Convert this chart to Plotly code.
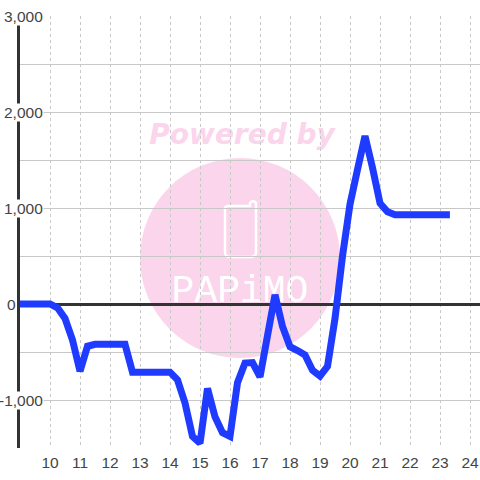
import plotly.graph_objects as go

hours = [8.9, 9.25, 9.5, 9.75, 10, 10.25, 10.5, 10.75, 11, 11.25, 11.5, 11.75, 12, 12.25, 12.5, 12.75,
         13, 13.25, 13.5, 13.75, 14, 14.25, 14.5, 14.75, 15, 15.25, 15.5, 15.75, 16, 16.25, 16.5, 16.75,
         17, 17.25, 17.5, 17.75, 18, 18.25, 18.5, 18.75, 19, 19.25, 19.5, 19.75, 20, 20.25, 20.5, 20.75,
         21, 21.25, 21.5, 21.75, 22, 22.25, 22.5, 22.75, 23, 23.33]
values = [0, 0, 0, 0, 0, -40, -150, -375, -700, -440, -420, -420, -420, -420, -420, -710,
          -710, -710, -710, -710, -710, -790, -1030, -1380, -1450, -880, -1175, -1340, -1380, -820, -615, -610,
          -760, -330, 95, -235, -445, -485, -530, -690, -750, -650, -150, 500, 1040, 1400, 1750, 1420,
          1050, 960, 930, 930, 930, 930, 930, 930, 930, 930]
x_ticks = list(range(10, 25))
y_grid = [-1500, -1000, -500, 0, 500, 1000, 1500, 2000, 2500, 3000]
y_labels = {3000: "3,000", 2000: "2,000", 1000: "1,000", 0: "0", -1000: "-1,000"}
PINK = "#fbd5ec"
GREY = "#444444"


def px(v):
    return (v - 20) / 460


def py(v):
    return (448 - v) / 432


fig = go.Figure(go.Scatter(x=hours, y=values, mode="lines", cliponaxis=False,
                           line=dict(color="#1f3bff", width=7, shape="linear"), hoverinfo="skip"))

fig.add_shape(type="circle", xref="paper", yref="paper", layer="below",
              x0=px(140), x1=px(340), y0=py(358), y1=py(158),
              fillcolor=PINK, line=dict(width=0))
# handset glyph of the logo
fig.add_shape(type="path", xref="paper", yref="paper", layer="below",
              path=(f"M {px(228)} {py(206)} L {px(250)} {py(206)} L {px(250)} {py(203)} "
                    f"Q {px(253)} {py(199)} {px(256)} {py(203)} L {px(256)} {py(252)} "
                    f"Q {px(256)} {py(257)} {px(251)} {py(257)} L {px(230)} {py(257)} "
                    f"Q {px(225)} {py(257)} {px(225)} {py(252)} L {px(225)} {py(209)} "
                    f"Q {px(225)} {py(206)} {px(228)} {py(206)} Z"),
              fillcolor="rgba(0,0,0,0)", line=dict(color="white", width=2.5))
# text drawn beneath the grid
fig.add_shape(type="rect", xref="paper", yref="paper", layer="below",
              x0=px(140), x1=px(344), y0=py(148), y1=py(116),
              fillcolor="rgba(0,0,0,0)", line=dict(width=0),
              label=dict(text="<b><i>Powered by</i></b>", textposition="middle center",
                         font=dict(family="DejaVu Sans", size=28, color=PINK)))
fig.add_shape(type="rect", xref="paper", yref="paper", layer="below",
              x0=px(140), x1=px(340), y0=py(303), y1=py(267),
              fillcolor="rgba(0,0,0,0)", line=dict(width=0),
              label=dict(text="PAPiMO", textposition="middle center",
                         font=dict(family="Liberation Mono", size=38, color="white")))

for val, txt in y_labels.items():
    fig.add_annotation(x=9, y=val, xref="x", yref="y", text=txt, showarrow=False,
                       xanchor="right", yanchor="middle", xshift=-3 if val == 0 else 24,
                       bgcolor="rgba(0,0,0,0)" if val == 0 else "white", borderpad=0,
                       font=dict(family="Liberation Sans", size=15.5, color=GREY))

fig.update_layout(
    width=480, height=480, autosize=False,
    margin=dict(l=20, r=0, t=16, b=32),
    paper_bgcolor="white", plot_bgcolor="rgba(0,0,0,0)", showlegend=False,
    xaxis=dict(range=[9, 24.333], tickmode="array", tickvals=x_ticks, ticks="",
               showgrid=True, gridcolor="#c8c8c8", griddash="dot", gridwidth=1,
               zeroline=False, showline=False, ticklabelstandoff=3,
               tickfont=dict(family="Liberation Sans", size=15.5, color=GREY)),
    yaxis=dict(range=[-1500, 3000], tickmode="array", tickvals=y_grid, showticklabels=False, ticks="",
               showgrid=True, gridcolor="#c8c8c8", gridwidth=1,
               zeroline=True, zerolinecolor="#333333", zerolinewidth=3,
               showline=True, linecolor="#333333", linewidth=3),
)
fig.write_html("out.html", config={"displayModeBar": False},
               post_script="document.body.style.margin='0';document.documentElement.style.overflow='hidden';")
